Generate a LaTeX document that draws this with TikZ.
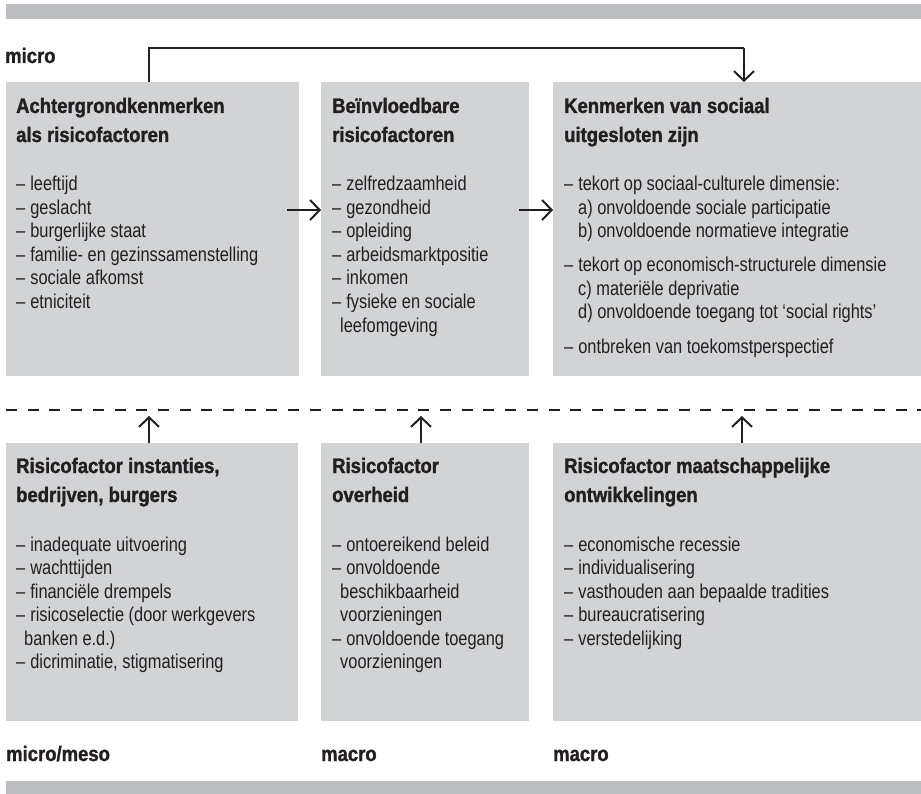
\documentclass[tikz,border=0pt]{standalone}
\usepackage{fontspec}
\usetikzlibrary{arrows.meta}
\newfontfamily\bodyf{Liberation Sans}[FakeStretch=0.82]
\newfontfamily\titlef{Liberation Sans Bold}[FakeStretch=0.88, FakeBold=1.4]
\definecolor{boxgray}{HTML}{D1D3D4}
\definecolor{bargray}{HTML}{BCBDC0}
\definecolor{ink}{HTML}{231F20}
\newcommand\itm{–\hspace{5pt}}
\newcommand\cnt{\hspace{8pt}}
\newcommand\sub{\hspace{14pt}}
\tikzset{
  panel/.style={fill=boxgray, draw=none, anchor=north west, inner sep=0pt},
  bar/.style={fill=bargray, draw=none, anchor=north west, inner sep=0pt},
  ttl/.style={anchor=base west, inner sep=0pt, text=ink, font=\titlef\fontsize{21}{25}\selectfont},
  body/.style={anchor=base west, inner sep=0pt, text=ink, font=\bodyf\fontsize{20}{24}\selectfont},
  arr/.style={draw=ink, line width=2pt, -{Straight Barb[length=9.5pt, width=20pt, line width=2pt]}},
  conn/.style={draw=ink, line width=2pt},
}
\begin{document}
\begin{tikzpicture}[x=1pt, y=-1pt]
\useasboundingbox (0,0) rectangle (921,794);
% bars
\node[bar, minimum width=915pt, minimum height=15pt] (topbar) at (6,4) {};
\node[bar, minimum width=915pt, minimum height=13pt] (botbar) at (6,781) {};
% panels
\node[panel, minimum width=293pt, minimum height=294pt] (b1) at (6,82) {};
\node[panel, minimum width=208pt, minimum height=294pt] (b2) at (321,82) {};
\node[panel, minimum width=368pt, minimum height=294pt] (b3) at (553,82) {};
\node[panel, minimum width=292pt, minimum height=278pt] (b4) at (6,443) {};
\node[panel, minimum width=208pt, minimum height=278pt] (b5) at (321,443) {};
\node[panel, minimum width=368pt, minimum height=278pt] (b6) at (553,443) {};
% level labels
\node[ttl] (lmicro) at (5,63) {micro};
\node[ttl] (lmeso) at (6,761) {micro/meso};
\node[ttl] (lmacroa) at (321,761) {macro};
\node[ttl] (lmacrob) at (553,761) {macro};
% box 1
\node[ttl] (t1a) at (16,113) {Achtergrondkenmerken};
\node[ttl] (t1b) at (16,142) {als risicofactoren};
\node[body] (i1a) at (16,191) {\itm leeftijd};
\node[body] (i1b) at (16,214.5) {\itm geslacht};
\node[body] (i1c) at (16,238) {\itm burgerlijke staat};
\node[body] (i1d) at (16,261.5) {\itm familie- en gezinssamenstelling};
\node[body] (i1e) at (16,285) {\itm sociale afkomst};
\node[body] (i1f) at (16,308.5) {\itm etniciteit};
% box 2
\node[ttl] (t2a) at (332,113) {Beïnvloedbare};
\node[ttl] (t2b) at (332,142) {risicofactoren};
\node[body] (i2a) at (332,191) {\itm zelfredzaamheid};
\node[body] (i2b) at (332,214.5) {\itm gezondheid};
\node[body] (i2c) at (332,238) {\itm opleiding};
\node[body] (i2d) at (332,261.5) {\itm arbeidsmarktpositie};
\node[body] (i2e) at (332,285) {\itm inkomen};
\node[body] (i2f) at (332,308.5) {\itm fysieke en sociale};
\node[body] (i2g) at (332,332) {\cnt leefomgeving};
% box 3
\node[ttl] (t3a) at (564,113) {Kenmerken van sociaal};
\node[ttl] (t3b) at (564,142) {uitgesloten zijn};
\node[body] (i3a) at (564,191) {\itm tekort op sociaal-culturele dimensie:};
\node[body] (i3b) at (564,214.5) {\sub a) onvoldoende sociale participatie};
\node[body] (i3c) at (564,238) {\sub b) onvoldoende normatieve integratie};
\node[body] (i3d) at (564,272) {\itm tekort op economisch-structurele dimensie};
\node[body] (i3e) at (564,295.5) {\sub c) materiële deprivatie};
\node[body] (i3f) at (564,319) {\sub d) onvoldoende toegang tot ‘social rights’};
\node[body] (i3g) at (564,353) {\itm ontbreken van toekomstperspectief};
% box 4
\node[ttl] (t4a) at (16,473) {Risicofactor instanties,};
\node[ttl] (t4b) at (16,502) {bedrijven, burgers};
\node[body] (i4a) at (16,551) {\itm inadequate uitvoering};
\node[body] (i4b) at (16,574.5) {\itm wachttijden};
\node[body] (i4c) at (16,598) {\itm financiële drempels};
\node[body] (i4d) at (16,621.5) {\itm risicoselectie (door werkgevers};
\node[body] (i4e) at (16,645) {\cnt banken e.d.)};
\node[body] (i4f) at (16,668.5) {\itm dicriminatie, stigmatisering};
% box 5
\node[ttl] (t5a) at (332,473) {Risicofactor};
\node[ttl] (t5b) at (332,502) {overheid};
\node[body] (i5a) at (332,551) {\itm ontoereikend beleid};
\node[body] (i5b) at (332,574.5) {\itm onvoldoende};
\node[body] (i5c) at (332,598) {\cnt beschikbaarheid};
\node[body] (i5d) at (332,621.5) {\cnt voorzieningen};
\node[body] (i5e) at (332,645) {\itm onvoldoende toegang};
\node[body] (i5f) at (332,668.5) {\cnt voorzieningen};
% box 6
\node[ttl] (t6a) at (564,473) {Risicofactor maatschappelijke};
\node[ttl] (t6b) at (564,502) {ontwikkelingen};
\node[body] (i6a) at (564,551) {\itm economische recessie};
\node[body] (i6b) at (564,574.5) {\itm individualisering};
\node[body] (i6c) at (564,598) {\itm vasthouden aan bepaalde tradities};
\node[body] (i6d) at (564,621.5) {\itm bureaucratisering};
\node[body] (i6e) at (564,645) {\itm verstedelijking};
% dashed boundary
\coordinate (dl) at (6,410);
\coordinate (dr) at (921,410);
\draw[draw=ink, line width=2.4pt, dash pattern=on 11pt off 10.7pt] (dl) -- (dr);
% top feedback connector
\coordinate (fb1) at (149,48);
\coordinate (fb2) at (744,48);
\draw[conn] ([xshift=143pt]b1.north west) -- (fb1) -- (fb2);
\draw[arr] (fb2) -- ([xshift=191pt]b3.north west);
% horizontal arrows
\coordinate (h1) at (287,210);
\coordinate (h2) at (519,210);
\draw[arr] (h1) -- (h1 -| b2.west);
\draw[arr] (h2) -- (h2 -| b3.west);
% upward arrows to the boundary
\coordinate (u4) at (149,416);
\coordinate (u5) at (421,416);
\coordinate (u6) at (742,416);
\draw[arr] (u4 |- b4.north) -- (u4);
\draw[arr] (u5 |- b5.north) -- (u5);
\draw[arr] (u6 |- b6.north) -- (u6);
\end{tikzpicture}
\end{document}
